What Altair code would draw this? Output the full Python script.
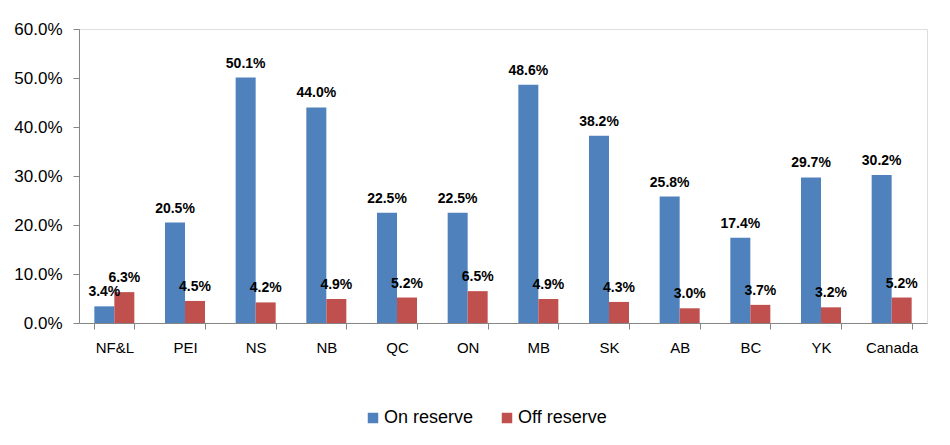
import altair as alt
import pandas as pd

regions = ["NF&L", "PEI", "NS", "NB", "QC", "ON", "MB", "SK", "AB", "BC", "YK", "Canada"]
on_reserve = [3.4, 20.5, 50.1, 44.0, 22.5, 22.5, 48.6, 38.2, 25.8, 17.4, 29.7, 30.2]
off_reserve = [6.3, 4.5, 4.2, 4.9, 5.2, 6.5, 4.9, 4.3, 3.0, 3.7, 3.2, 5.2]
series = ["On reserve", "Off reserve"]
colors = ["#4F81BD", "#C0504D"]

rows = []
for r, a, b in zip(regions, on_reserve, off_reserve):
    rows.append({"region": r, "series": series[0], "value": a / 100})
    rows.append({"region": r, "series": series[1], "value": b / 100})
df = pd.DataFrame(rows)

FONT = "Liberation Sans"

x = alt.X(
    "region:N",
    sort=regions,
    scale=alt.Scale(paddingInner=0.434, paddingOuter=0.217),
    axis=alt.Axis(
        title=None, labelAngle=0, labelFontSize=15, labelColor="#000000",
        labelFont=FONT, tickBand="extent", tickSize=6, tickColor="#868686",
        domainColor="#868686", labelPadding=11, grid=False,
    ),
)
xo = alt.XOffset("series:N", sort=series, scale=alt.Scale(paddingInner=0, paddingOuter=0))
y = alt.Y(
    "value:Q",
    scale=alt.Scale(domain=[0, 0.6], nice=False),
    axis=alt.Axis(
        title=None, format=".1%", values=[0, 0.1, 0.2, 0.3, 0.4, 0.5, 0.6],
        labelFontSize=17, labelColor="#000000", labelFont=FONT, tickSize=6,
        tickColor="#868686", domainColor="#868686", labelPadding=11, grid=False,
    ),
)
color = alt.Color(
    "series:N",
    sort=series,
    scale=alt.Scale(domain=series, range=colors),
    legend=alt.Legend(
        title=None, orient="none", direction="horizontal", legendX=285, legendY=380,
        symbolType="square", symbolSize=110, symbolStrokeWidth=0, labelFontSize=18,
        labelFont=FONT, labelColor="#000000", columnPadding=24, labelOffset=2,
    ),
)

bars = alt.Chart(df).mark_bar(size=20).encode(x=x, xOffset=xo, y=y, color=color)
labels = alt.Chart(df).mark_text(
    baseline="alphabetic", dy=-10, fontSize=14, fontWeight="bold", font=FONT, color="#000000"
).encode(x=x, xOffset=xo, y=y, text=alt.Text("value:Q", format=".1%"))

chart = (
    alt.layer(bars, labels)
    .properties(width=848, height=294, padding={"left": 5, "top": 12, "right": 5, "bottom": 5})
    .configure_view(stroke=None)
    .configure(background="white")
)

chart.save("out.html", embed_options={"renderer": "svg", "actions": False})
